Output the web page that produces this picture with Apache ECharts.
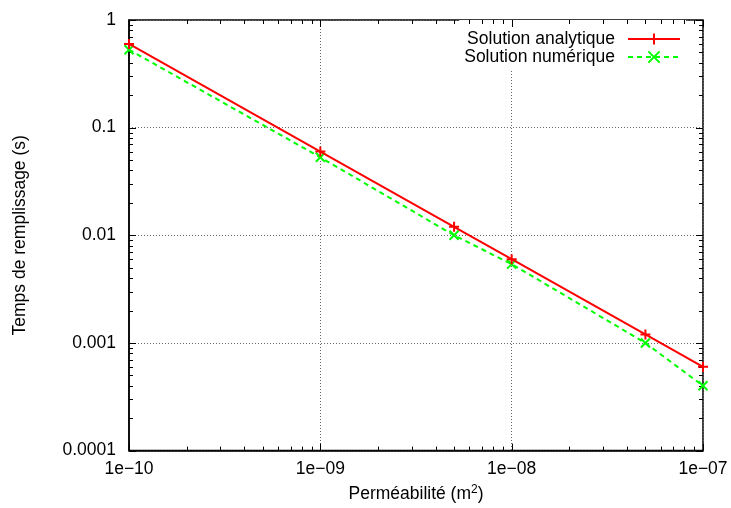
<!DOCTYPE html>
<html>
<head>
<meta charset="utf-8">
<script src="https://cdn.jsdelivr.net/npm/echarts@6/dist/echarts.min.js"></script>
<style>html,body{margin:0;padding:0;background:#fff}#c{width:731px;height:508px}</style>
</head>
<body>
<div id="c"></div>
<script>
// ---- data ----
const permeability = [1e-10, 1e-9, 5e-9, 1e-8, 5e-8, 1e-7];
const analytique = [0.6, 0.06, 0.012, 0.006, 0.0012, 0.0006];
const numerique = [0.53, 0.053, 0.01, 0.0054, 0.001, 0.0004];
const seriesNames = ['Solution analytique', 'Solution numérique'];
const xTickValues = [1e-10, 1e-9, 1e-8, 1e-7];
const xTickLabels = ['1e\u221210', '1e\u221209', '1e\u221208', '1e\u221207'];
const yTickValues = [1e-4, 1e-3, 1e-2, 1e-1, 1];
const yTickLabels = ['0.0001', '0.001', '0.01', '0.1', '1'];
const minorMultipliers = [2, 3, 4, 5, 6, 7, 8, 9];

const FONT = 'Liberation Sans, Arial, sans-serif';
const FS = 17.5;
const MAJOR = 7, MINOR = 4;

function labelFor(values, labels) {
  return function (v) {
    const lv = Math.round(Math.log10(v));
    for (let i = 0; i < values.length; i++) {
      if (Math.round(Math.log10(values[i])) === lv) return labels[i];
    }
    return '';
  };
}

// tick marks (decoration) built from axis tick values
const xTicks = [], yTicks = [];
xTickValues.forEach((v, i) => {
  xTicks.push([v, 0.01, MAJOR]);
  if (i < xTickValues.length - 1) minorMultipliers.forEach(m => xTicks.push([v * m, 0.01, MINOR]));
});
yTickValues.forEach((v, i) => {
  yTicks.push([1e-9, v, MAJOR]);
  if (i < yTickValues.length - 1) minorMultipliers.forEach(m => yTicks.push([1e-9, v * m, MINOR]));
});

function tickRenderer(dir) {
  return function (params, api) {
    const cs = params.coordSys;
    const len = api.value(2);
    const st = { stroke: '#000', lineWidth: 1 };
    if (dir === 'x') {
      const px = Math.round(api.coord([api.value(0), api.value(1)])[0]) + 0.5;
      return { type: 'group', children: [
        { type: 'line', shape: { x1: px, y1: cs.y + cs.height, x2: px, y2: cs.y + cs.height - len }, style: st },
        { type: 'line', shape: { x1: px, y1: cs.y, x2: px, y2: cs.y + len }, style: st }
      ]};
    } else {
      const py = Math.round(api.coord([api.value(0), api.value(1)])[1]) + 0.5;
      return { type: 'group', children: [
        { type: 'line', shape: { x1: cs.x, y1: py, x2: cs.x + len, y2: py }, style: st },
        { type: 'line', shape: { x1: cs.x + cs.width, y1: py, x2: cs.x + cs.width - len, y2: py }, style: st }
      ]};
    }
  };
}

const chart = echarts.init(document.getElementById('c'), null, { renderer: 'canvas' });
chart.setOption({
  animation: false,
  backgroundColor: '#fff',
  textStyle: { fontFamily: FONT },
  grid: { left: 129, right: 28, top: 20, bottom: 56, show: true, borderColor: '#000', borderWidth: 1.5, containLabel: false },
  legend: {
    data: seriesNames,
    orient: 'vertical',
    align: 'right',
    right: 45,
    top: 20,
    padding: [10, 5, 4, 5],
    itemGap: 0,
    itemWidth: 52,
    itemHeight: 14,
    backgroundColor: '#fff',
    textStyle: { fontSize: FS, fontFamily: FONT, color: '#000', padding: [0, 8, 0, 0] }
  },
  xAxis: {
    type: 'log', logBase: 10, min: 1e-10, max: 1e-7,
    name: 'Perméabilité (m{sup|2})',
    nameLocation: 'middle', nameGap: 31,
    nameTextStyle: { fontSize: FS, fontFamily: FONT, color: '#000', rich: { sup: { fontSize: 12, fontFamily: FONT, color: '#000', padding: [0, 0, 9, 0] } } },
    axisLine: { lineStyle: { color: '#000', width: 1.5 } },
    axisTick: { show: false },
    minorTick: { show: false },
    axisLabel: { fontSize: FS, fontFamily: FONT, color: '#000', margin: 10, formatter: labelFor(xTickValues, xTickLabels), showMinLabel: true, showMaxLabel: true },
    splitLine: { show: true, lineStyle: { color: '#666', type: [1, 2], width: 1 } }
  },
  yAxis: {
    type: 'log', logBase: 10, min: 1e-4, max: 1,
    name: 'Temps de remplissage (s)',
    nameLocation: 'middle', nameGap: 100, nameRotate: 90,
    nameTextStyle: { fontSize: FS, fontFamily: FONT, color: '#000' },
    axisLine: { lineStyle: { color: '#000', width: 1.5 } },
    axisTick: { show: false },
    minorTick: { show: false },
    axisLabel: { fontSize: FS, fontFamily: FONT, color: '#000', margin: 13, formatter: labelFor(yTickValues, yTickLabels) },
    splitLine: { show: true, lineStyle: { color: '#666', type: [1, 2], width: 1 } }
  },
  series: [
    {
      type: 'custom', name: 'xticks', silent: true, clip: false, z: 5,
      renderItem: tickRenderer('x'), data: xTicks, encode: { x: 0, y: 1 }
    },
    {
      type: 'custom', name: 'yticks', silent: true, clip: false, z: 5,
      renderItem: tickRenderer('y'), data: yTicks, encode: { x: 0, y: 1 }
    },
    {
      name: seriesNames[0], type: 'line', clip: false, z: 10,
      data: permeability.map((x, i) => [x, analytique[i]]),
      symbol: 'path://M5,0L5,10M0,5L10,5', symbolSize: 10,
      lineStyle: { color: '#ff0000', width: 2 },
      itemStyle: { color: '#ff0000', borderColor: '#ff0000', borderWidth: 2 }
    },
    {
      name: seriesNames[1], type: 'line', clip: false, z: 9,
      data: permeability.map((x, i) => [x, numerique[i]]),
      symbol: 'path://M0,0L10,10M0,10L10,0', symbolSize: 9,
      lineStyle: { color: '#00ff00', width: 2, type: [5, 4] },
      itemStyle: { color: '#00ff00', borderColor: '#00ff00', borderWidth: 2 }
    }
  ]
});
</script>
</body>
</html>
